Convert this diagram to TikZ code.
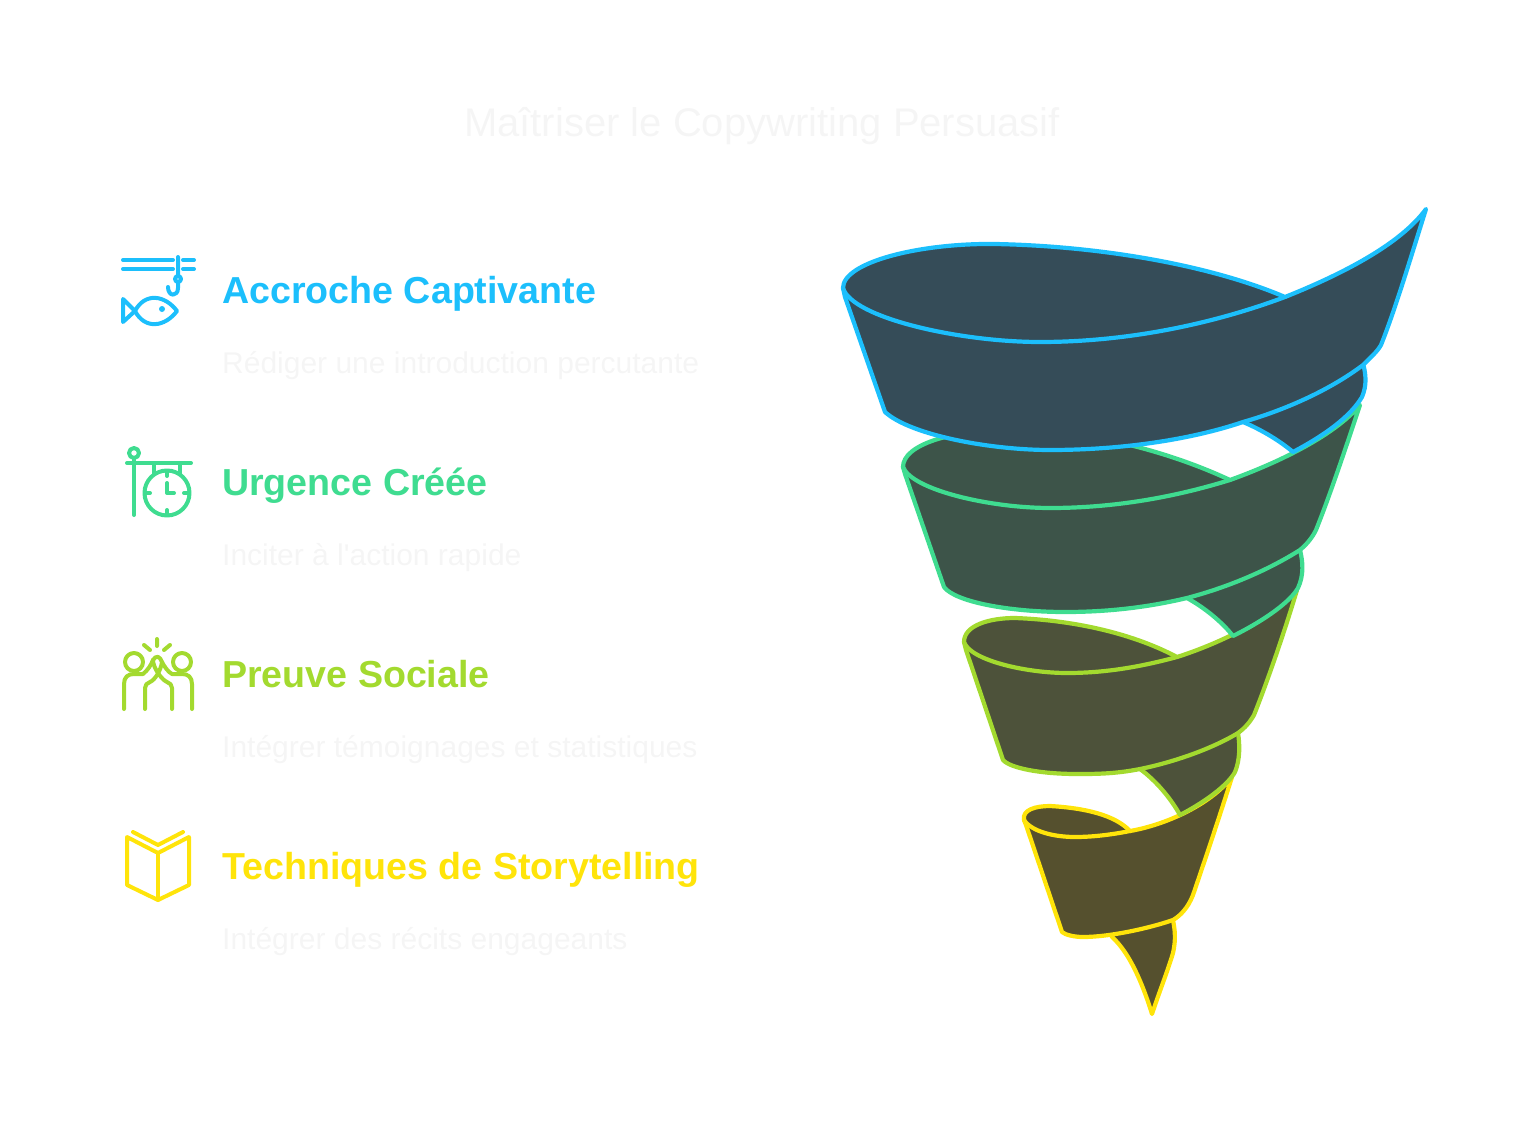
\documentclass[tikz,border=0pt]{standalone}
\usepackage{fontspec}
\setmainfont{Liberation Sans}
\newfontfamily\rawfont{Liberation Sans}
\definecolor{blueline}{HTML}{1CBFFC}
\definecolor{bluefill}{HTML}{354C58}
\definecolor{greenline}{HTML}{3FDC90}
\definecolor{greenfill}{HTML}{3D5449}
\definecolor{limeline}{HTML}{A3DA2F}
\definecolor{limefill}{HTML}{4D523A}
\definecolor{yellowline}{HTML}{FFE40A}
\definecolor{yellowfill}{HTML}{55502E}
\definecolor{faint}{HTML}{F5F5F5}
\tikzset{
	band/.style={draw=#1, line width=4.2pt, line join=round, line cap=round},
	icon/.style={draw=#1, line width=4pt, line join=round, line cap=round},
	heading/.style={anchor=base west, inner sep=0pt, font=\fontsize{37.6}{44}\selectfont\bfseries},
	blurb/.style={anchor=base west, inner sep=0pt, text=faint, font=\rawfont\fontsize{30}{36}\selectfont},
}
\begin{document}
\begin{tikzpicture}[x=1pt,y=-1pt]
	\useasboundingbox (0,0) rectangle (1524,1132);
	\node[anchor=base, inner sep=0pt, text=faint, font=\fontsize{40}{46}\selectfont] (title) at (762,136) {Maîtriser le Copywriting Persuasif};
	% yellow turn
	\draw[band=yellowline, fill=yellowfill] (1112,937) .. controls (1130,953) and (1143,985) .. (1152,1014) .. controls (1160,990) and (1168,970) .. (1173,953) .. controls (1176,940) and (1175,930) .. (1173,920);
	\draw[band=yellowline, fill=yellowfill] (1024,820) .. controls (1022,810) and (1035,806) .. (1050,806) .. controls (1085,808) and (1115,815) .. (1130,831) .. controls (1165,825) and (1210,805) .. (1232,777) .. controls (1220,815) and (1205,860) .. (1193,895) .. controls (1188,908) and (1180,916) .. (1173,920) .. controls (1150,928) and (1110,937) .. (1083,937) .. controls (1075,937) and (1065,935) .. (1062,932) -- (1026,825) -- cycle;
	\draw[band=yellowline] (1024,820) .. controls (1032,832) and (1055,837) .. (1075,837) .. controls (1095,837) and (1115,834) .. (1130,831);
	% lime turn
	\draw[band=limeline, fill=limefill] (1140,769) .. controls (1155,780) and (1170,797) .. (1180,815) .. controls (1205,802) and (1228,785) .. (1235,772) .. controls (1240,760) and (1240,745) .. (1238,733);
	\draw[band=limeline, fill=limefill] (964,642) .. controls (964,625) and (990,618) .. (1015,618) .. controls (1070,620) and (1130,632) .. (1177,657) .. controls (1215,645) and (1270,620) .. (1297,590) .. controls (1285,630) and (1268,680) .. (1254,715) .. controls (1250,722) and (1245,728) .. (1238,733) .. controls (1210,750) and (1170,763) .. (1140,769) .. controls (1115,774) and (1095,774) .. (1077,774) .. controls (1040,774) and (1010,768) .. (1003,760) -- (966,650) -- cycle;
	\draw[band=limeline] (964,642) .. controls (970,660) and (1025,673) .. (1067,673) .. controls (1105,673) and (1140,667) .. (1177,657);
	% green turn
	\draw[band=greenline, fill=greenfill] (1187,598) .. controls (1205,608) and (1222,622) .. (1233,636) .. controls (1265,620) and (1290,602) .. (1298,588) .. controls (1304,575) and (1303,562) .. (1300,550);
	\draw[band=greenline, fill=greenfill] (903,467) .. controls (903,445) and (950,430) .. (1010,430) .. controls (1090,430) and (1170,452) .. (1230,480) .. controls (1280,462) and (1335,435) .. (1360,405) .. controls (1345,450) and (1330,495) .. (1316,530) .. controls (1312,538) and (1307,544) .. (1300,550) .. controls (1265,572) and (1225,588) .. (1187,598) .. controls (1145,608) and (1105,612) .. (1065,612) .. controls (1010,612) and (955,602) .. (944,587) -- (905,474) -- cycle;
	\draw[band=greenline] (903,467) .. controls (912,490) and (990,508) .. (1050,508) .. controls (1115,508) and (1175,497) .. (1230,480);
	% blue turn
	\draw[band=blueline, fill=bluefill] (1243,422) .. controls (1262,430) and (1280,441) .. (1293,452) .. controls (1325,435) and (1350,417) .. (1362,397) .. controls (1367,385) and (1366,375) .. (1363,363);
	\draw[band=blueline, fill=bluefill] (843,288) .. controls (843,262) and (920,243) .. (995,244) .. controls (1100,246) and (1210,265) .. (1285,297) .. controls (1340,275) and (1400,245) .. (1426,209) .. controls (1410,260) and (1395,310) .. (1381,345) .. controls (1377,352) and (1370,358) .. (1363,365) .. controls (1330,390) and (1285,410) .. (1243,422) .. controls (1190,440) and (1120,450) .. (1050,450) .. controls (990,450) and (910,435) .. (885,412) -- (845,297) -- cycle;
	\draw[band=blueline] (843,288) .. controls (852,318) and (960,342) .. (1040,342) .. controls (1125,342) and (1210,325) .. (1285,297);
	% hook and fish
	\draw[icon=blueline] (123,260) -- (173,260) (123,269) -- (173,269) (183,260) -- (194,260) (183,269) -- (194,269);
	\draw[icon=blueline] (178,257) -- (178,276) (178,282) -- (178,288) .. controls (178,297) and (168,297) .. (168,287);
	\draw[icon=blueline] (178,279) circle (3);
	\draw[icon=blueline] (135,311) -- (123,299) -- (123,322) -- (135,311) .. controls (145,292) and (165,295) .. (177,311) .. controls (165,327) and (145,330) .. (135,311);
	\fill[blueline] (162,309) circle (3);
	% clock sign
	\draw[icon=greenline] (134,453) circle (5);
	\draw[icon=greenline] (134,459) -- (134,515) (127,463) -- (191,463) (154,463) -- (154,474) (180,463) -- (180,474);
	\draw[icon=greenline] (167,493) circle (22.5);
	\draw[icon=greenline] (167,471) -- (167,476) (167,510) -- (167,515) (145,493) -- (150,493) (184,493) -- (189,493);
	\draw[icon=greenline] (167,483) -- (167,493) -- (174,493);
	% high five
	\draw[icon=limeline] (157,639) -- (157,646) (144,645) -- (150,650) (170,645) -- (164,650);
	\draw[icon=limeline] (134,662) circle (9) (182,662) circle (9);
	\draw[icon=limeline] (124,709) -- (124,684) .. controls (124,677) and (128,674) .. (134,674) -- (143,674) .. controls (148,670) and (151,665) .. (153,660) .. controls (156,655) and (160,656) .. (162,662) .. controls (161,670) and (155,680) .. (150,682) .. controls (147,683) and (145,685) .. (145,688) -- (145,709);
	\draw[icon=limeline] (192,709) -- (192,684) .. controls (192,677) and (188,674) .. (182,674) -- (172,674) .. controls (168,672) and (164,666) .. (162,662) (153,660) .. controls (153,668) and (162,680) .. (167,682) .. controls (170,683) and (172,685) .. (172,688) -- (172,709);
	% book
	\draw[icon=yellowline] (127,837) -- (158,853) -- (189,837) -- (189,885) -- (158,900) -- (127,885) -- cycle;
	\draw[icon=yellowline] (158,853) -- (158,900);
	\draw[icon=yellowline] (133,832) -- (158,845) -- (183,832);
	% texts
	\node[heading, text=blueline] (accroche) at (222,303.5) {Accroche Captivante};
	\node[blurb] (accrochetext) at (222,373) {Rédiger une introduction percutante};
	\node[heading, text=greenline] (urgence) at (222,495.5) {Urgence Créée};
	\node[blurb] (urgencetext) at (222,565) {Inciter à l'action rapide};
	\node[heading, text=limeline] (preuve) at (222,687.5) {Preuve Sociale};
	\node[blurb] (preuvetext) at (222,757) {Intégrer témoignages et statistiques};
	\node[heading, text=yellowline] (story) at (222,879.5) {Techniques de Storytelling};
	\node[blurb] (storytext) at (222,949) {Intégrer des récits engageants};
\end{tikzpicture}
\end{document}
